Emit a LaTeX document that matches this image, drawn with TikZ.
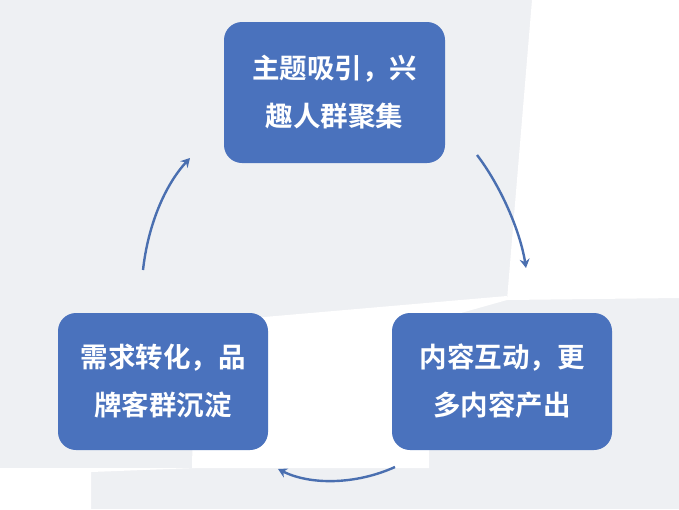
\documentclass[tikz,border=0pt]{standalone}
\usepackage{fontspec}
\usetikzlibrary{arrows.meta}
\newfontfamily\cjk{Noto Sans CJK SC Bold}
\definecolor{bg}{HTML}{EEF0F3}
\definecolor{boxc}{HTML}{4A72BD}
\definecolor{arr}{HTML}{4A6FB0}
\begin{document}
\begin{tikzpicture}[x=1pt,y=-1pt,
  card/.style={fill=boxc, rounded corners=18pt, inner sep=0pt, text=white, align=center,
    font=\cjk\fontsize{27.5}{48}\selectfont},
  flow/.style={draw=arr, line width=2.4pt, -{Stealth[length=9pt,width=10pt,inset=3pt]}}]
\useasboundingbox (0,0) rectangle (679,509);
\fill[bg] (0,0) rectangle (679,509);
\fill[white] (532,0) -- (679,0) -- (679,298) -- (507,300) -- cycle;
\fill[white] (195,323) -- (507,296) -- (507,300) -- (429,322) -- (429,468) -- (192,468) -- cycle;
\fill[white] (0,468) -- (195,468) -- (91,472) -- (91,509) -- (0,509) -- cycle;
\node[card, minimum width=221pt, minimum height=141pt] (top) at (334.5,92.5) {主题吸引，兴\\趣人群聚集};
\node[card, minimum width=210pt, minimum height=137pt] (left) at (163,381.5) {需求转化，品\\牌客群沉淀};
\node[card, minimum width=220pt, minimum height=137pt] (right) at (502,381.5) {内容互动，更\\多内容产出};
\coordinate (a1) at (477,155);
\coordinate (a2) at (526,268);
\coordinate (b1) at (395,467);
\coordinate (b2) at (278,469);
\coordinate (c1) at (143,270);
\coordinate (c2) at (190,158);
\draw[flow] (a1) .. controls (500,185) and (520,230) .. (a2);
\draw[flow] (b1) .. controls (355,485) and (310,485) .. (b2);
\draw[flow] (c1) .. controls (148,225) and (165,185) .. (c2);
\end{tikzpicture}
\end{document}
